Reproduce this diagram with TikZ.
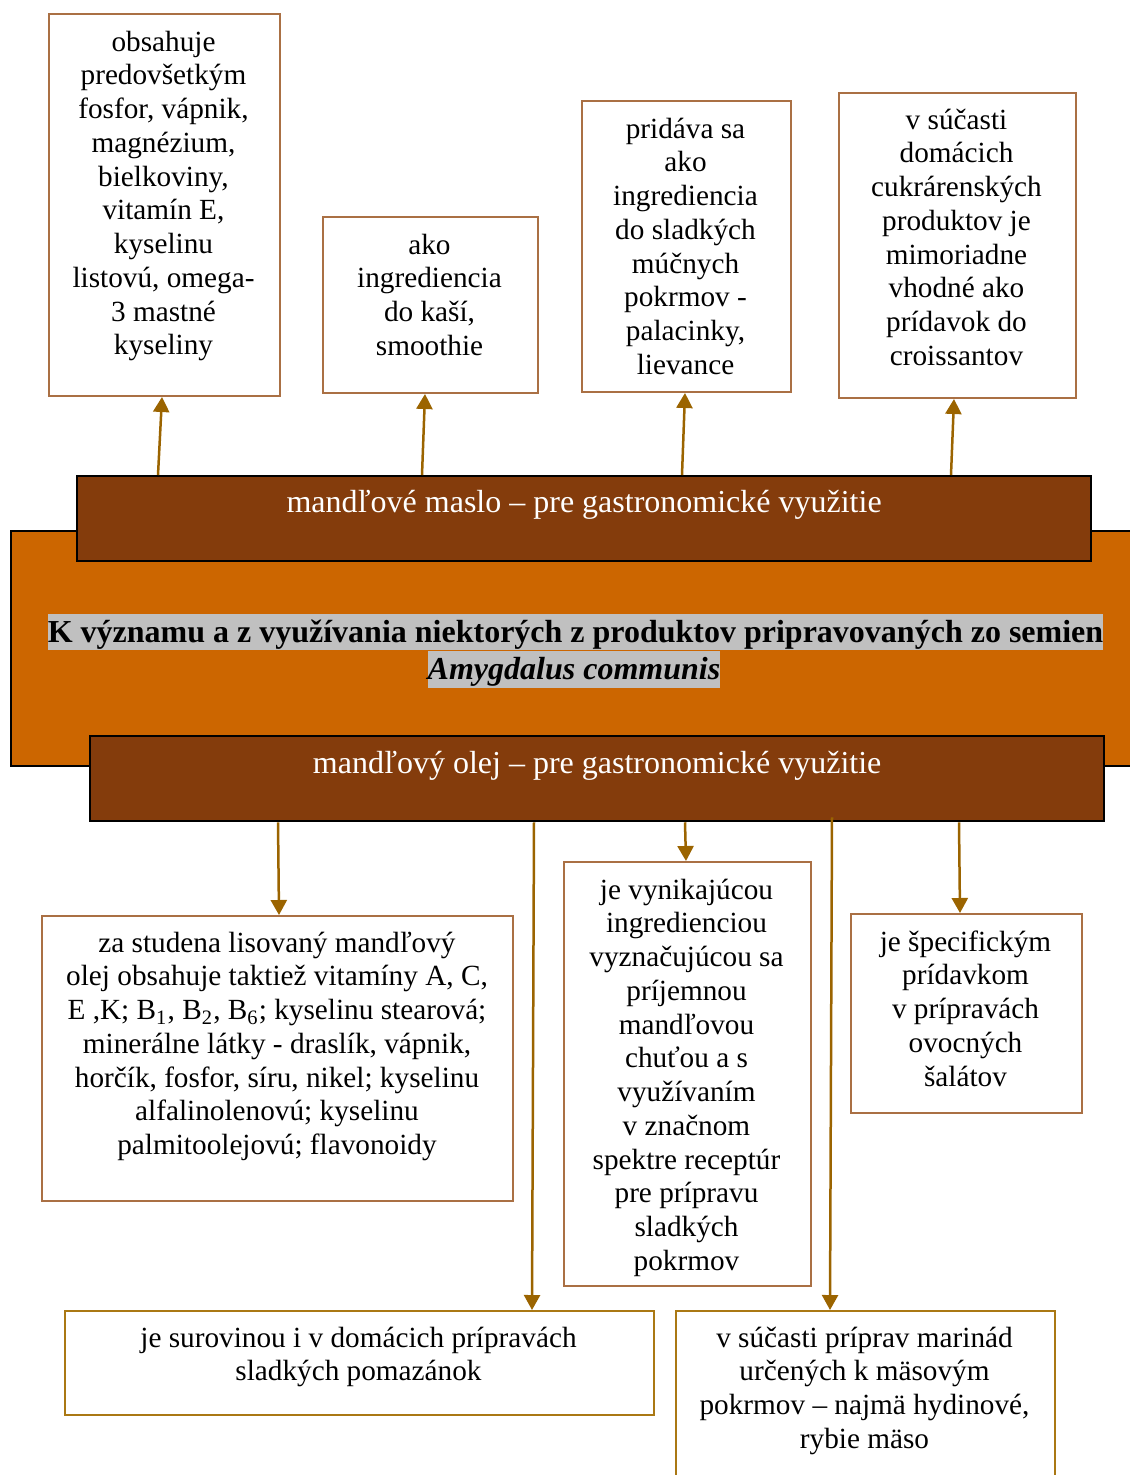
\documentclass[tikz,border=0pt]{standalone}
\usepackage{fontspec}
\setmainfont{Liberation Serif}
\usetikzlibrary{arrows.meta,calc}
\definecolor{orangeF}{RGB}{204,102,0}
\definecolor{barF}{RGB}{132,60,12}
\definecolor{hlgray}{RGB}{192,192,192}
\definecolor{boxbrown}{RGB}{170,112,68}
\definecolor{boxgold}{RGB}{170,120,20}
\definecolor{arrowc}{RGB}{155,100,0}
\begin{document}
\begin{tikzpicture}[x=0.4pt,y=-0.4pt,
  txtfont/.style={font=\fontsize{11.7}{13.5}\selectfont},
  infobox/.style={draw=boxbrown,line width=0.8pt,fill=white,rectangle,inner sep=0pt,anchor=north west},
  goldbox/.style={infobox,draw=boxgold},
  boxtext/.style={txtfont,align=center,anchor=north,inner sep=0pt},
  bar/.style={draw=black,line width=0.9pt,fill=barF,text=white,font=\fontsize{12.8}{14}\selectfont,
    inner sep=0pt,anchor=north west,minimum width=405.6pt,minimum height=34pt},
  hilite/.style={fill=hlgray,inner sep=0pt,text height=11.5pt,text depth=3.2pt,
    font=\fontsize{12.8}{14}\selectfont\bfseries},
  arr/.style={draw=arrowc,line width=1pt,-{Triangle[width=6.4pt,length=6pt]}}]
\clip (0,0) rectangle (1130,1475);

% central title panel
\node[draw=black,line width=0.7pt,fill=orangeF,inner sep=0pt,anchor=north west,
  minimum width=452pt,minimum height=94pt] (title) at (10,530) {};
\node[hilite] (t1) at (575.5,632) {K významu a z využívania niektorých z produktov pripravovaných zo semien};
\node[hilite,font=\fontsize{12.8}{14}\selectfont\bfseries\itshape] (t2) at (574,669.5) {Amygdalus communis};

% product bars
\node[bar,text height=14.4pt,text depth=19.6pt] (maslo) at (76,475) {mandľové maslo -- pre gastronomické využitie};
\node[bar,text height=14.8pt,text depth=19.2pt] (olej) at (89,735) {mandľový olej -- pre gastronomické využitie};

% boxes above: almond butter
\node[infobox,minimum width=92.4pt,minimum height=152.8pt] (A) at (48,13) {};
\node[boxtext] (At) at (163.5,27) {\strut obsahuje\\predovšetkým\\fosfor, vápnik,\\magnézium,\\bielkoviny,\\vitamín E,\\kyselinu\\listovú, omega-\\3 mastné\\kyseliny};
\node[infobox,minimum width=86pt,minimum height=70.4pt] (B) at (322,216) {};
\node[boxtext] (Bt) at (429.5,230) {\strut ako\\ingrediencia\\do kaší,\\smoothie};
\node[infobox,minimum width=83.6pt,minimum height=116.4pt] (C) at (581,100) {};
\node[boxtext] (Ct) at (685.5,114) {\strut pridáva sa\\ako\\ingrediencia\\do sladkých\\múčnych\\pokrmov -\\palacinky,\\lievance};
\node[infobox,minimum width=94.8pt,minimum height=122pt] (D) at (838,92) {};
\node[boxtext] (Dt) at (956.5,105) {\strut v súčasti\\domácich\\cukrárenských\\produktov je\\mimoriadne\\vhodné ako\\prídavok do\\croissantov};

% boxes below: almond oil
\node[infobox,minimum width=188.4pt,minimum height=114pt] (E) at (41,915) {};
\node[boxtext] (Et) at (277,928) {\strut za studena lisovaný mandľový\\olej obsahuje taktiež vitamíny A, C,\\E ,K; B\textsubscript{1}, B\textsubscript{2}, B\textsubscript{6}; kyselinu stearová;\\minerálne látky - draslík, vápnik,\\horčík, fosfor, síru, nikel; kyselinu\\alfalinolenovú; kyselinu\\palmitoolejovú; flavonoidy};
\node[infobox,minimum width=98.8pt,minimum height=169.6pt] (F) at (563,861) {};
\node[boxtext] (Ft) at (686.5,875) {\strut je vynikajúcou\\ingredienciou\\vyznačujúcou sa\\príjemnou\\mandľovou\\chuťou a s\\využívaním\\v značnom\\spektre receptúr\\pre prípravu\\sladkých\\pokrmov};
\node[infobox,minimum width=92.4pt,minimum height=79.6pt] (G) at (850,913) {};
\node[boxtext] (Gt) at (965.5,927) {\strut je špecifickým\\prídavkom\\v prípravách\\ovocných\\šalátov};
\node[goldbox,minimum width=235.6pt,minimum height=41.6pt] (H) at (64,1310) {};
\node[boxtext] (Ht) at (358.5,1323) {\strut je surovinou i v domácich prípravách\\sladkých pomazánok};
\node[goldbox,minimum width=151.6pt,minimum height=80pt] (I) at (675,1310) {};
\node[boxtext] (It) at (864.5,1323) {\strut v súčasti príprav marinád\\určených k mäsovým\\pokrmov -- najmä hydinové,\\rybie mäso};

% connectors from the butter bar
\draw[arr] ($(maslo.north west)+(82,0)$) -- ($(A.south)+(-2.5,0)$);
\draw[arr] ($(maslo.north west)+(346,0)$) -- ($(B.south)+(-5.5,0)$);
\draw[arr] ($(maslo.north west)+(606,0)$) -- ($(C.south)+(-1.5,0)$);
\draw[arr] ($(maslo.north west)+(875,0)$) -- ($(D.south)+(-3.5,0)$);

% connectors from the oil bar
\draw[arr] ($(olej.south west)+(189,0)$) -- ($(E.north)+(1.5,0)$);
\draw[arr] ($(olej.south west)+(445,0)$) -- ($(H.north)+(172.5,0)$);
\draw[arr] ($(olej.south west)+(596,0)$) -- ($(F.north)+(-1.5,0)$);
\draw[arr] ($(olej.south west)+(743,-5)$) -- ($(I.north)+(-35.5,0)$);
\draw[arr] ($(olej.south west)+(870,0)$) -- ($(G.north)+(-6.5,0)$);
\end{tikzpicture}
\end{document}
